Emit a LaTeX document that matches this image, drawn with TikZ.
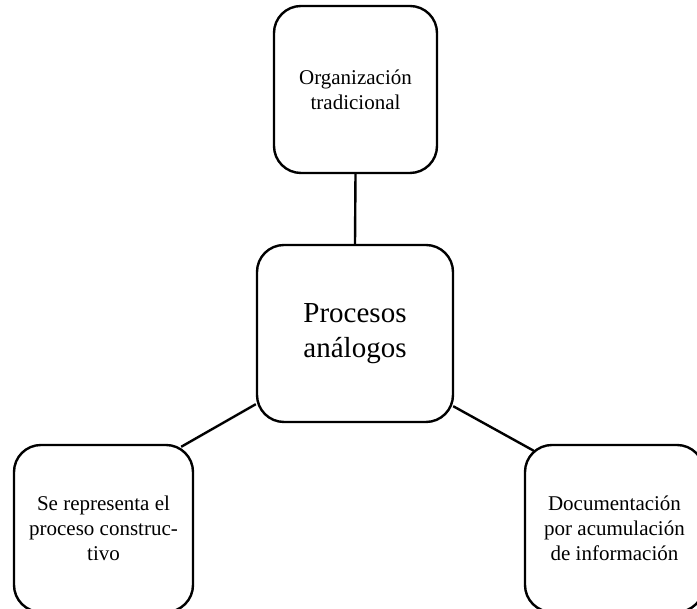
\documentclass[tikz,border=0pt]{standalone}
\usepackage{fontspec}
\setmainfont{Liberation Serif}
\usetikzlibrary{calc}
\begin{document}
\begin{tikzpicture}[x=1pt,y=1pt,
  box/.style={draw=black, line width=2.4pt, rounded corners=27pt, fill=white,
    inner sep=0pt, align=center, font=\fontsize{21}{25}\selectfont},
  link/.style={draw=black, line width=2.4pt}]
\useasboundingbox (0,0) rectangle (697,609);
\node[box, minimum width=163, minimum height=167] (t) at (355.5,519.5)
  {Organización\\tradicional};
\node[box, minimum width=196, minimum height=177, font=\fontsize{29}{35}\selectfont] (c) at (355,275.5)
  {Procesos\\análogos};
\node[box, minimum width=179, minimum height=167] (l) at (103.5,80.5)
  {Se representa el\\proceso construc-\\tivo};
\node[box, minimum width=179, minimum height=167] (r) at (614.5,80.5)
  {Documentación\\por acumulación\\de información};
\draw[link] (t.south) -- (c.north);
\draw[link] ($(c.south west)+(0,19)$) -- ($(l.north east)+(-13,-3)$);
\draw[link] ($(c.south east)+(-1,17)$) -- ($(r.north west)+(10,-7)$);
\end{tikzpicture}
\end{document}
